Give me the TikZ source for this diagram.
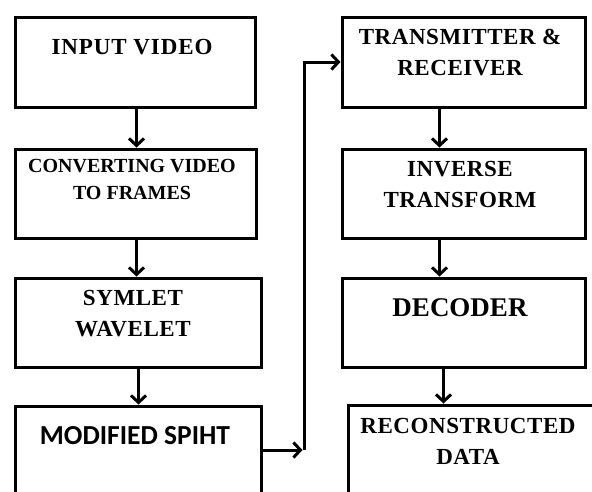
\documentclass[tikz,border=0pt]{standalone}
\usepackage{fontspec}
\setmainfont{Liberation Serif}
\newfontfamily\carlito{Carlito}
\usetikzlibrary{arrows.meta}
\begin{document}
\begin{tikzpicture}[x=1pt,y=-1pt,
  box/.style={draw=black,line width=3pt,inner sep=0pt,anchor=north west},
  lbl/.style={align=center,inner sep=0pt,font=\fontsize{23}{31}\selectfont\bfseries\addfontfeature{LetterSpace=2.5}},
  arr/.style={line width=3pt,-{Straight Barb[length=7pt,width=15pt]}}]
\useasboundingbox (0,0) rectangle (592,491);
\fill[white] (0,0) rectangle (592,491);
\clip (0,0) rectangle (592,491);
% left column
\node[box,minimum width=240,minimum height=90] (iv) at (13.5,15.5) {};
\node[box,minimum width=241,minimum height=89] (cv) at (13.5,147.5) {};
\node[box,minimum width=246,minimum height=89] (sw) at (13.5,276.5) {};
\node[box,minimum width=246,minimum height=150] (ms) at (13.5,404.5) {};
% right column
\node[box,minimum width=243,minimum height=90] (tr) at (340.5,15.5) {};
\node[box,minimum width=243,minimum height=89] (it) at (340.5,147.5) {};
\node[box,minimum width=243,minimum height=89] (dc) at (340.5,276.5) {};
\node[box,minimum width=300,minimum height=150] (rd) at (346.5,403.5) {};
% labels
\node[lbl,font=\fontsize{23}{31}\selectfont\bfseries\addfontfeature{LetterSpace=4}] (ivt) at (132,47) {INPUT VIDEO};
\node[lbl,font=\fontsize{20}{27}\selectfont\bfseries] (cvt) at (132,179.5) {CONVERTING VIDEO\\TO FRAMES};
\node[lbl] (swt) at (133,313.5) {SYMLET\\WAVELET};
\node[lbl,font=\fontsize{27.5}{31}\selectfont\carlito\bfseries] (mst) at (135,436) {MODIFIED SPIHT};
\node[lbl] (trt) at (460,52.5) {TRANSMITTER \&\\RECEIVER};
\node[lbl] (itt) at (460,184) {INVERSE\\TRANSFORM};
\node[lbl,font=\fontsize{27}{31}\selectfont\bfseries] (dct) at (460,308) {DECODER};
\node[lbl] (rdt) at (468,441) {RECONSTRUCTED\\DATA};
% arrows between stages
\coordinate (a1) at ([xshift=1.5]iv.south);
\coordinate (a2) at ([xshift=1]cv.south);
\coordinate (a3) at ([xshift=0.5]sw.south);
\coordinate (a4) at ([xshift=-24]tr.south);
\coordinate (a5) at ([xshift=-24]it.south);
\coordinate (a6) at ([xshift=-20]dc.south);
\draw[arr] (a1) -- (a1 |- cv.north);
\draw[arr] (a2) -- (a2 |- sw.north);
\draw[arr] (a3) -- (a3 |- ms.north);
\draw[arr] (a4) -- (a4 |- it.north);
\draw[arr] (a5) -- (a5 |- dc.north);
\draw[arr] (a6) -- (a6 |- rd.north);
% link from the encoder to the channel
\coordinate (bend) at (304,450);
\draw[arr,shorten >=1.5pt] (bend -| ms.east) -- (bend);
\draw[arr] (bend) |- (tr.west);
\end{tikzpicture}
\end{document}
